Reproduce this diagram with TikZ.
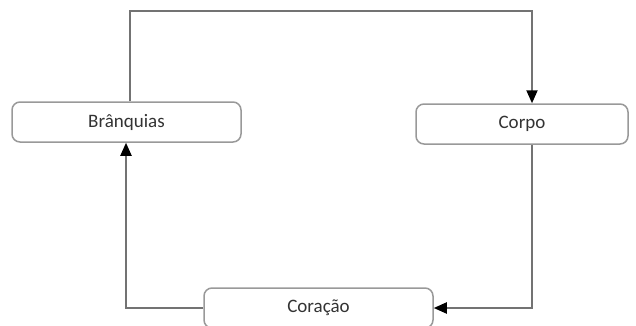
\documentclass[tikz,border=0pt]{standalone}
\usepackage{fontspec}
\setmainfont{Carlito}
\usetikzlibrary{arrows.meta}
\begin{document}
\begin{tikzpicture}[x=1pt,y=-1pt,
		organ/.style={draw=gray!80, line width=1.5pt, rounded corners=8pt, fill=white,
			minimum height=40pt, inner sep=0pt, text=black!80, font=\fontsize{19}{22}\selectfont},
		flow/.style={draw=gray!90!black, line width=2pt,
			-{Triangle[black,length=13pt,width=11pt]}}]
	% Rahmen festlegen
	\useasboundingbox (0,0) rectangle (636,325);
	
	% Organe
	\node[organ, minimum width=229pt] (bra) at (126.5,122) {Brânquias};
	\node[organ, minimum width=212pt] (corpo) at (522,124) {Corpo};
	\node[organ, minimum width=229pt] (cor) at (318.5,308) {Coração};
	
	% Knickpunkte
	\coordinate (topL) at (130,11);
	\coordinate (topR) at (532,11);
	\coordinate (botR) at (532,308);
	\coordinate (botL) at (126,308);
	
	% Kreislauf
	\draw[flow] (topL |- bra.north) -- (topL) -- (topR) -- (topR |- corpo.north);
	\draw[flow] (botR |- corpo.south) -- (botR) -- (cor.east);
	\draw[flow] (cor.west) -- (botL) -- (botL |- bra.south);
	
\end{tikzpicture}
\end{document}
